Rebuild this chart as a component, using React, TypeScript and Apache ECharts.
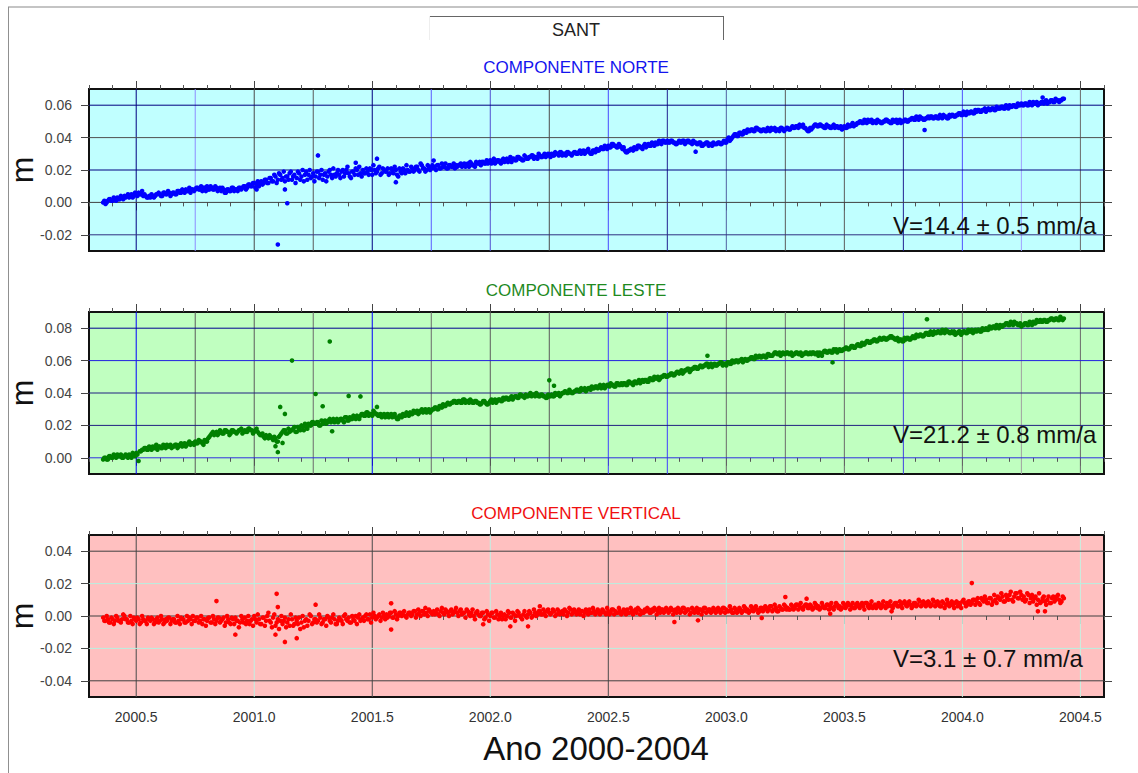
import React, { useEffect, useRef } from "react";
import * as echarts from "echarts";

// ---------- DATA (values in millimetres) ----------
// set A sampled every 0.01 yr from 2000.36, set B every 0.01 yr from 2000.365
const T0_A = 2000.36;
const T0_B = 2000.365;
const STEP = 0.01;

const NORTE_MM_A = [
  0, -1, 1, 2, 1, 2, 3, 2, 3, 4,
  4, 3, 5, 4, 5, 6, 5, 4, 4, 3,
  3, 4, 4, 5, 5, 4, 6, 5, 6, 5,
  6, 5, 7, 6, 7, 8, 7, 6, 8, 8,
  9, 8, 7, 9, 10, 8, 9, 8, 9, 8,
  7, 8, 6, 8, 7, 9, 8, 7, 9, 9,
  10, 9, 11, 10, 12, 11, 10, 13, 12, 14,
  12, 15, 13, 16, 14, 17, 15, 13, 16, 18,
  14, 17, 15, 18, 16, 13, 19, 17, 15, 18,
  16, 19, 17, 14, 18, 16, 20, 15, 17, 18,
  17, 19, 16, 20, 18, 15, 19, 21, 17, 18,
  20, 18, 19, 21, 17, 20, 19, 22, 18, 20,
  19, 17, 21, 18, 20, 16, 19, 21, 18, 20,
  19, 21, 20, 22, 19, 23, 21, 20, 22, 21,
  22, 20, 23, 21, 22, 24, 21, 23, 22, 21,
  22, 23, 22, 24, 23, 22, 24, 23, 25, 24,
  23, 25, 24, 24, 26, 25, 24, 26, 25, 26,
  25, 27, 26, 25, 27, 26, 28, 27, 26, 28,
  27, 28, 29, 28, 27, 29, 28, 30, 29, 29,
  30, 29, 30, 29, 31, 30, 29, 31, 30, 30,
  31, 30, 32, 31, 30, 32, 31, 30, 32, 33,
  32, 34, 33, 34, 35, 34, 36, 35, 34, 35,
  33, 32, 31, 32, 33, 34, 33, 35, 34, 35,
  34, 36, 35, 36, 37, 36, 37, 38, 37, 38,
  37, 38, 37, 36, 38, 37, 38, 37, 38, 37,
  38, 37, 36, 37, 35, 36, 37, 36, 35, 36,
  36, 37, 36, 38, 37, 40, 39, 41, 42, 41,
  43, 42, 44, 45, 44, 45, 44, 46, 45, 44,
  45, 44, 45, 46, 45, 44, 45, 46, 45, 45,
  46, 45, 47, 46, 47, 48, 47, 46, 45, 44,
  45, 47, 48, 47, 48, 47, 46, 47, 46, 47,
  46, 47, 46, 45, 47, 46, 47, 48, 47, 48,
  49, 50, 49, 50, 51, 50, 49, 50, 51, 50,
  49, 50, 51, 50, 49, 50, 51, 50, 49, 50,
  51, 50, 51, 52, 51, 52, 53, 52, 51, 52,
  52, 53, 52, 53, 52, 53, 54, 53, 52, 53,
  54, 53, 54, 55, 54, 55, 56, 55, 56, 55,
  56, 57, 56, 57, 56, 58, 57, 58, 57, 58,
  58, 59, 58, 59, 60, 59, 60, 59, 60, 61,
  60, 61, 60, 61, 62, 61, 60, 61, 62, 62,
  61, 62, 63, 62, 63, 62, 63, 64,
];
const NORTE_MM_B = [
  1, 0, 2, 1, 3, 1, 2, 4, 2, 3,
  5, 4, 3, 6, 4, 5, 7, 5, 3, 4,
  5, 3, 5, 6, 4, 6, 5, 7, 4, 6,
  5, 7, 6, 8, 6, 7, 9, 8, 7, 9,
  8, 10, 9, 7, 8, 10, 8, 10, 7, 9,
  9, 6, 8, 7, 9, 7, 8, 9, 8, 10,
  8, 11, 10, 12, 9, 13, 12, 11, 14, 12,
  15, 13, 17, 12, 18, 14, 19, 16, 14, 19,
  16, 12, 19, 14, 20, 17, 14, 20, 16, 13,
  19, 15, 20, 17, 13, 19, 17, 21, 16, 20,
  15, 20, 18, 22, 16, 19, 17, 20, 22, 16,
  18, 21, 17, 20, 23, 18, 21, 17, 21, 19,
  21, 18, 20, 22, 17, 21, 18, 20, 23, 19,
  22, 19, 22, 20, 24, 21, 19, 23, 20, 23,
  21, 23, 21, 24, 22, 21, 23, 22, 24, 23,
  23, 24, 23, 22, 24, 25, 23, 22, 24, 25,
  25, 24, 26, 25, 24, 27, 25, 26, 24, 27,
  26, 25, 28, 27, 26, 28, 27, 26, 29, 27,
  28, 29, 27, 28, 30, 28, 29, 28, 30, 28,
  29, 31, 30, 31, 29, 30, 31, 30, 29, 31,
  30, 31, 30, 32, 31, 33, 30, 32, 31, 32,
  33, 33, 35, 33, 34, 36, 35, 34, 36, 34,
  34, 31, 32, 33, 32, 33, 35, 34, 33, 36,
  35, 35, 37, 35, 36, 38, 36, 38, 37, 37,
  38, 37, 36, 37, 37, 38, 36, 38, 37, 36,
  37, 36, 37, 35, 36, 37, 35, 36, 37, 36,
  37, 36, 37, 37, 39, 38, 40, 42, 41, 43,
  42, 44, 43, 44, 45, 44, 46, 45, 44, 45,
  44, 46, 44, 45, 46, 45, 44, 46, 44, 46,
  45, 46, 46, 47, 46, 47, 48, 46, 44, 46,
  46, 48, 47, 48, 47, 46, 48, 47, 46, 48,
  47, 46, 47, 46, 46, 48, 47, 49, 48, 49,
  50, 49, 51, 49, 50, 51, 50, 49, 50, 49,
  50, 51, 50, 49, 51, 50, 49, 51, 50, 51,
  50, 51, 52, 51, 53, 51, 52, 51, 52, 53,
  53, 52, 53, 52, 54, 52, 53, 52, 54, 54,
  53, 54, 55, 54, 56, 54, 55, 56, 55, 57,
  57, 56, 57, 58, 57, 57, 58, 57, 59, 58,
  59, 58, 60, 58, 59, 60, 59, 61, 60, 60,
  61, 60, 62, 60, 61, 62, 61, 62, 61, 63,
  62, 63, 62, 64, 63, 63, 64,
];

const LESTE_MM_A = [
  -1, 0, -1, 1, 0, 1, 2, 1, 0, 1,
  1, 2, 0, 2, 3, -2, 4, 5, 6, 5,
  6, 7, 6, 5, 7, 6, 7, 8, 7, 6,
  7, 8, 7, 9, 8, 7, 9, 8, 9, 10,
  9, 10, 9, 11, 10, 13, 15, 14, 16, 15,
  16, 15, 17, 16, 15, 17, 16, 16, 17, 15,
  17, 16, 18, 17, 16, 18, 15, 14, 13, 14,
  12, 13, 11, 12, 10, 14, 16, 17, 15, 16,
  17, 19, 16, 18, 20, 17, 19, 21, 20, 22,
  21, 22, 20, 21, 23, 22, 24, 23, 22, 24,
  23, 24, 22, 25, 23, 24, 26, 24, 25, 26,
  27, 26, 28, 27, 26, 28, 27, 26, 25, 27,
  26, 25, 27, 26, 25, 24, 26, 27, 26, 27,
  28, 27, 28, 29, 28, 30, 29, 28, 30, 29,
  30, 31, 30, 32, 33, 32, 34, 33, 34, 35,
  34, 35, 34, 36, 35, 34, 35, 34, 35, 34,
  33, 35, 34, 33, 35, 34, 36, 35, 36, 35,
  36, 37, 36, 38, 37, 38, 37, 39, 38, 39,
  38, 40, 39, 38, 39, 38, 39, 38, 37, 38,
  39, 38, 39, 40, 39, 40, 41, 40, 41, 40,
  41, 42, 41, 42, 43, 42, 43, 44, 43, 44,
  44, 43, 45, 44, 45, 46, 45, 44, 46, 45,
  45, 46, 45, 47, 46, 47, 46, 48, 47, 47,
  48, 47, 49, 48, 49, 50, 49, 50, 51, 50,
  51, 52, 51, 53, 52, 54, 53, 54, 55, 54,
  55, 56, 55, 57, 56, 57, 58, 57, 56, 58,
  57, 58, 59, 58, 57, 59, 58, 59, 60, 59,
  60, 59, 61, 60, 61, 62, 61, 62, 63, 62,
  63, 62, 64, 63, 64, 65, 64, 63, 65, 64,
  65, 64, 63, 64, 65, 64, 63, 64, 65, 64,
  64, 65, 64, 63, 64, 65, 66, 65, 66, 65,
  66, 65, 67, 66, 67, 68, 67, 69, 68, 69,
  70, 69, 70, 71, 72, 71, 72, 73, 72, 74,
  73, 74, 73, 74, 75, 74, 73, 72, 73, 72,
  73, 74, 73, 75, 74, 75, 76, 75, 76, 77,
  76, 77, 78, 77, 78, 77, 78, 79, 78, 77,
  77, 76, 77, 78, 77, 78, 77, 78, 79, 78,
  78, 79, 78, 79, 80, 79, 80, 81, 80, 81,
  82, 81, 82, 83, 82, 83, 84, 83, 82, 81,
  82, 83, 82, 83, 84, 83, 84, 85, 84, 85,
  84, 85, 86, 85, 86, 85, 86, 86,
];
const LESTE_MM_B = [
  0, -1, 1, 0, 2, 0, 1, 2, 0, 2,
  0, 1, 3, 1, 2, 4, 5, 6, 5, 7,
  5, 6, 8, 7, 6, 8, 6, 7, 8, 7,
  8, 6, 8, 7, 9, 8, 10, 9, 8, 9,
  11, 10, 8, 10, 12, 14, 16, 15, 14, 17,
  15, 17, 16, 14, 17, 16, 15, 17, 18, 16,
  16, 18, 17, 15, 17, 16, 14, 15, 12, 13,
  14, 12, 13, 10, 13, 15, 17, 15, 18, 17,
  18, 16, 19, 17, 19, 21, 18, 20, 22, 21,
  22, 20, 23, 22, 21, 23, 22, 24, 23, 22,
  24, 23, 25, 23, 25, 24, 25, 26, 24, 27,
  26, 28, 26, 27, 29, 27, 26, 27, 26, 25,
  27, 26, 25, 27, 24, 26, 25, 26, 28, 26,
  27, 29, 28, 27, 29, 28, 30, 29, 28, 30,
  31, 30, 32, 31, 32, 33, 33, 34, 35, 34,
  35, 34, 36, 34, 35, 36, 34, 35, 34, 33,
  34, 35, 33, 34, 36, 35, 34, 36, 35, 37,
  37, 36, 37, 36, 38, 37, 39, 38, 37, 38,
  39, 38, 39, 40, 38, 39, 38, 37, 39, 38,
  38, 40, 39, 38, 40, 41, 40, 42, 40, 41,
  42, 41, 43, 42, 41, 43, 42, 43, 44, 43,
  45, 44, 43, 45, 44, 45, 44, 46, 45, 46,
  46, 45, 47, 46, 45, 47, 47, 46, 48, 48,
  47, 49, 48, 50, 49, 48, 50, 51, 50, 51,
  52, 51, 52, 53, 53, 52, 54, 55, 53, 55,
  56, 55, 56, 56, 57, 58, 56, 58, 57, 57,
  58, 59, 57, 58, 59, 58, 60, 59, 60, 60,
  61, 60, 60, 61, 62, 61, 63, 62, 62, 63,
  62, 64, 63, 63, 65, 64, 65, 64, 64, 65,
  64, 65, 64, 65, 64, 65, 64, 65, 64, 65,
  65, 64, 65, 65, 63, 66, 65, 66, 65, 67,
  67, 66, 66, 67, 68, 67, 68, 69, 68, 70,
  69, 71, 70, 72, 71, 72, 73, 72, 73, 73,
  74, 73, 74, 75, 74, 73, 74, 73, 72, 74,
  74, 73, 74, 74, 76, 75, 76, 75, 77, 76,
  78, 76, 77, 78, 77, 79, 77, 78, 77, 78,
  78, 77, 78, 76, 78, 77, 79, 78, 77, 79,
  79, 78, 80, 79, 79, 81, 80, 81, 82, 80,
  81, 82, 83, 82, 84, 82, 83, 82, 83, 82,
  83, 82, 84, 82, 83, 85, 84, 84, 85, 84,
  85, 86, 85, 86, 85, 87, 85,
];

const VERTICAL_MM_A = [
  -1, -3, -2, -4, -2, -3, -1, -3, -2, 0,
  -2, -4, -3, -1, -3, -2, -4, -2, -3, -1,
  -3, -2, -4, -1, -3, -2, -4, -3, -1, -3,
  -2, -4, -3, -1, -2, -4, -3, -2, 0, -3,
  -1, -3, -5, -2, -3, -1, -4, -2, -3, -1,
  -3, -1, -4, -2, -5, -2, -1, -3, -4, -2,
  -1, -3, -5, -2, 0, -4, -2, -5, -1, -3,
  2, -4, -1, -6, -2, -3, -5, -1, -4, -6,
  -2, -5, -3, -1, -4, -7, -2, -3, 0, -4,
  -2, -3, -1, -4, -2, 0, -3, -1, -2, -5,
  -1, -3, 0, -2, -1, -4, -2, 0, -1, -3,
  -1, 0, -2, 1, -1, 0, -1, 1, -1, 0,
  1, 0, 2, -1, 1, 0, 2, 1, 0, 1,
  2, 1, 3, 1, 2, 3, 1, 2, 4, 2,
  3, 2, 1, 3, 2, 4, 2, 3, 1, 3,
  2, 3, 1, 2, 4, 1, 2, 0, 2, 1,
  0, 2, -1, 1, 0, 2, -1, 1, 0, -2,
  1, 0, 2, -1, 1, 0, 2, -1, 1, 0,
  1, 2, 0, 2, 1, 3, 1, 2, 3, 2,
  2, 3, 1, 3, 2, 1, 3, 2, 4, 2,
  3, 2, 1, 3, 2, 3, 4, 2, 3, 2,
  3, 2, 3, 1, 3, 2, 4, 3, 2, 3,
  2, 3, 4, 2, 3, 3, 2, 4, 3, 2,
  3, 4, 2, 3, 4, 3, 2, 4, 3, 4,
  3, 4, 3, 2, 4, 3, 5, 3, 4, 2,
  4, 3, 2, 4, 3, 5, 3, 4, 3, 4,
  3, 4, 3, 5, 4, 3, 4, 2, 4, 3,
  4, 3, 5, 4, 3, 5, 4, 4, 3, 5,
  4, 5, 4, 6, 4, 5, 3, 5, 4, 6,
  5, 4, 6, 5, 7, 6, 5, 6, 7, 5,
  6, 5, 7, 6, 5, 6, 5, 7, 6, 5,
  6, 7, 6, 5, 7, 6, 7, 6, 5, 7,
  6, 7, 6, 8, 6, 7, 5, 7, 6, 7,
  7, 6, 8, 7, 6, 7, 8, 6, 7, 8,
  7, 8, 7, 6, 8, 7, 9, 7, 8, 7,
  8, 7, 9, 7, 8, 6, 8, 7, 8, 7,
  7, 8, 6, 7, 9, 8, 7, 9, 8, 10,
  9, 8, 11, 9, 10, 8, 11, 9, 10, 12,
  10, 12, 9, 11, 13, 10, 12, 14, 11, 13,
  12, 10, 13, 11, 9, 12, 10, 8, 11, 9,
  10, 8, 11, 9, 12, 10, 9, 11,
];
const VERTICAL_MM_B = [
  -3, 0, -4, -1, -5, 0, -3, -4, 1, -2,
  -4, 0, -5, -2, -1, -5, 0, -3, -5, -2,
  -1, -5, -2, -4, 0, -5, -2, -1, -5, -2,
  -4, 0, -5, -2, -4, 0, -1, -5, -3, -1,
  -4, 0, -2, -6, -1, -4, 0, -5, -1, -4,
  -2, -6, 0, -4, -1, -5, -3, -7, 0, -4,
  -5, 0, -3, -6, -2, 1, -5, -1, -6, 0,
  -3, -7, 1, -4, -8, 0, -3, -7, -2, 1,
  -6, -1, -5, -8, 0, -3, -6, 1, -5, -2,
  -4, 1, -5, -2, -6, -1, -4, 1, -5, -3,
  -2, -5, 1, -3, -4, 0, -3, -5, 1, -2,
  -3, 1, -2, -4, 2, -2, 0, -3, 2, -2,
  -1, 2, -1, 3, -2, 2, 0, 3, -1, 2,
  0, 3, -1, 4, 0, 3, 5, 0, 3, 1,
  1, 4, 0, 5, 1, 3, 0, 4, 2, 5,
  0, 4, 2, -1, 3, 0, 4, -2, 3, 0,
  2, -2, 3, -3, 2, -1, 3, -2, 2, 0,
  -2, 3, -1, 2, -3, 3, 0, -2, 3, -1,
  3, -1, 4, 0, 3, 1, 4, 0, 4, 1,
  4, 0, 4, 1, 3, 4, 0, 5, 1, 4,
  1, 4, 3, 0, 4, 1, 2, 5, 1, 4,
  1, 4, 2, 5, 1, 4, 1, 2, 5, 1,
  4, 1, 2, 5, 1, 4, 5, 1, 2, 4,
  5, 2, 4, 5, 1, 5, 4, 2, 5, 2,
  5, 1, 4, 5, 2, 5, 2, 4, 1, 5,
  2, 5, 4, 1, 5, 2, 4, 2, 5, 2,
  5, 2, 5, 2, 3, 6, 2, 5, 2, 5,
  2, 6, 3, 2, 6, 3, 6, 2, 5, 3,
  6, 3, 6, 3, 7, 3, 6, 4, 7, 4,
  4, 7, 4, 7, 4, 8, 4, 7, 5, 7,
  4, 8, 5, 4, 8, 5, 7, 4, 8, 4,
  8, 5, 4, 8, 5, 8, 4, 8, 5, 8,
  5, 8, 4, 8, 5, 9, 6, 5, 8, 5,
  9, 5, 6, 9, 5, 8, 6, 9, 5, 9,
  6, 9, 5, 8, 6, 10, 6, 9, 6, 9,
  6, 10, 6, 9, 6, 9, 5, 10, 6, 9,
  5, 9, 8, 5, 10, 6, 9, 7, 10, 7,
  11, 7, 10, 12, 8, 11, 7, 13, 8, 11,
  14, 9, 13, 10, 15, 9, 14, 11, 15, 10,
  9, 14, 8, 13, 11, 7, 14, 9, 12, 7,
  12, 8, 12, 10, 13, 8, 12,
];

// isolated points [year, mm]
const NORTE_OUTLIERS = [
  [2001.10, -26], [2001.14, -0.5], [2001.27, 29], [2001.13, 8], [2001.01, 8],
  [2001.43, 24.5], [2001.52, 27], [2001.60, 12.5], [2001.76, 25.8], [2002.87, 31.3],
  [2003.84, 44.7], [2004.34, 64.7],
];
const LESTE_OUTLIERS = [
  [2001.16, 60], [2001.32, 71.8], [2001.26, 39.4], [2001.29, 31.8], [2001.40, 38.2],
  [2001.45, 37.9], [2001.11, 31.4], [2001.13, 27.1], [2001.33, 16.4], [2001.10, 3.5],
  [2001.12, 9.2], [2001.09, 7.2], [2002.25, 47.8], [2002.27, 44.5], [2001.52, 31.4],
  [2002.92, 63], [2003.45, 58.9], [2003.85, 85.5],
];
const VERTICAL_OUTLIERS = [
  [2001.095, 13.7], [2001.10, 5.5], [2001.09, -11.5], [2001.13, -16], [2001.18, -13.7],
  [2000.84, 9.2], [2000.92, -11.5], [2001.58, 7.8], [2001.58, -8.4], [2001.26, 7],
  [2001.97, -5.1], [2002.085, -6.4], [2002.16, -6.4], [2002.21, 6], [2002.78, -3.7],
  [2002.88, -2.7], [2003.25, 11.7], [2003.34, 10.7], [2003.15, -1.2], [2003.44, 1.4],
  [2003.70, 2.9], [2004.04, 20.3], [2004.32, 2.9], [2004.35, 2.9],
];

const X_MIN = 2000.3;
const X_MAX = 2004.6;
const X_MAJOR = [2000.5, 2001.0, 2001.5, 2002.0, 2002.5, 2003.0, 2003.5, 2004.0, 2004.5];
const X_QUARTERS = [
  2000.5, 2000.75, 2001.0, 2001.25, 2001.5, 2001.75, 2002.0, 2002.25, 2002.5,
  2002.75, 2003.0, 2003.25, 2003.5, 2003.75, 2004.0, 2004.25, 2004.5,
];
const Y_RANGES = [[-0.03, 0.07], [-0.01, 0.09], [-0.05, 0.05]];
const Y_TICKS = [
  [-0.02, 0, 0.02, 0.04, 0.06],
  [0, 0.02, 0.04, 0.06, 0.08],
  [-0.04, -0.02, 0, 0.02, 0.04],
];
const STATION = "SANT";
const PANEL_TITLES = ["COMPONENTE NORTE", "COMPONENTE LESTE", "COMPONENTE VERTICAL"];
const VELOCITY_LABELS = ["V=14.4 ± 0.5 mm/a", "V=21.2 ± 0.8 mm/a", "V=3.1 ± 0.7 mm/a"];
const Y_NAME = "m";
const X_NAME = "Ano 2000-2004";

// ---------- STYLE ----------
const FONT = '"Liberation Sans", Arial, Helvetica, sans-serif';
const GRID_TOPS = [89, 312, 535];
const GRID_LEFT = 89;
const GRID_WIDTH = 1015;
const GRID_HEIGHT = 162;
const BG = ["#c0ffff", "#c0ffc0", "#ffc0c0"];
const DOT = ["#0000ff", "#008000", "#ff0000"];
const TITLE_COLOR = ["#1414ee", "#1f8a1f", "#f01010"];
const V_LINES = [X_QUARTERS, X_QUARTERS, X_MAJOR];
const V_COLORS = [
  ["#000080", "#8c8cff", "#4a4a4a", "#5a5a5a", "#000080", "#5a5aff", "#5050d0", "#4a4a4a", "#4848ff",
    "#202090", "#5060a0", "#5a5a5a", "#5a5a5a", "#202090", "#5050ff", "#a0a0ff", "#6a6a6a"],
  ["#0000ff", "#5a5a5a", "#5a5a5a", "#6a6a6a", "#0000ff", "#6a6a6a", "#5a5a5a", "#5a5a5a", "#4040ff",
    "#4040ff", "#6a6a6a", "#6a6a6a", "#6a6a6a", "#4040e0", "#6a6a6a", "#a0a0a0", "#6a6a6a"],
  ["#4a4a4a", "#c0f0e4", "#4a4a4a", "#c0f0e4", "#4a4a4a", "#c0f0e4", "#c0f0e4", "#c8f0e0", "#c8f0e0"],
];
const H_COLORS = [
  ["#303080", "#404040", "#000080", "#505050", "#000080"],
  ["#3030e0", "#202080", "#202080", "#2020e0", "#000090"],
  ["#404040", "#b8f0e0", "#404040", "#b8f0e0", "#404040"],
];

const SERIES_A = [NORTE_MM_A, LESTE_MM_A, VERTICAL_MM_A];
const SERIES_B = [NORTE_MM_B, LESTE_MM_B, VERTICAL_MM_B];
const OUTLIERS = [NORTE_OUTLIERS, LESTE_OUTLIERS, VERTICAL_OUTLIERS];

function buildOption() {
  const grid: any[] = [];
  const xAxis: any[] = [];
  const yAxis: any[] = [];
  const series: any[] = [];
  const elements: any[] = [];

  for (let p = 0; p < 3; p++) {
    grid.push({
      left: GRID_LEFT, top: GRID_TOPS[p], width: GRID_WIDTH, height: GRID_HEIGHT,
      show: true, backgroundColor: BG[p], borderColor: "#111", borderWidth: 2,
      containLabel: false, outerBoundsMode: "none",
    });
    const base = {
      type: "value", gridIndex: p, min: X_MIN, max: X_MAX,
      axisLine: { show: false }, splitLine: { show: false },
      axisLabel: { show: false }, axisTick: { show: false },
    };
    for (const position of ["bottom", "top"]) {
      xAxis.push({
        ...base, position, interval: 0.1,
        axisTick: { show: true, length: 4, inside: false, lineStyle: { color: "#555", width: 1 } },
      });
      xAxis.push({
        ...base, position,
        axisTick: { show: true, length: 8, inside: false, customValues: X_MAJOR, lineStyle: { color: "#444", width: 1 } },
        axisLabel: {
          show: p === 2 && position === "bottom", customValues: X_MAJOR,
          formatter: (v: number) => v.toFixed(1), margin: 13,
          color: "#333", fontSize: 14, fontFamily: FONT,
        },
      });
    }
    const [ymin, ymax] = Y_RANGES[p];
    yAxis.push({
      type: "value", gridIndex: p, position: "left", min: ymin, max: ymax,
      axisLine: { show: false }, splitLine: { show: false },
      axisTick: { show: true, length: 8, customValues: Y_TICKS[p], lineStyle: { color: "#444" } },
      axisLabel: {
        show: true, customValues: Y_TICKS[p], formatter: (v: number) => v.toFixed(2),
        margin: 17, color: "#444", fontSize: 14, fontFamily: FONT,
      },
    });
    yAxis.push({
      type: "value", gridIndex: p, position: "right", min: ymin, max: ymax,
      axisLine: { show: false }, splitLine: { show: false },
      axisTick: { show: true, length: 8, customValues: Y_TICKS[p], lineStyle: { color: "#444" } },
      axisLabel: { show: false },
    });

    const xi = 4 * p + 1;
    const yi = 2 * p;
    const lineData: number[][] = [];
    V_LINES[p].forEach((v, k) => lineData.push([v, 0, k]));
    Y_TICKS[p].forEach((v, k) => lineData.push([v, 1, k]));
    const vc = V_COLORS[p];
    const hc = H_COLORS[p];
    series.push({
      type: "custom", xAxisIndex: xi, yAxisIndex: yi, z: 1, silent: true,
      data: lineData,
      renderItem: (_params: any, api: any) => {
        const v = api.value(0);
        const dir = api.value(1);
        const k = api.value(2);
        let a, b, color;
        if (dir === 0) {
          a = api.coord([v, ymin]); b = api.coord([v, ymax]); color = vc[k];
        } else {
          a = api.coord([X_MIN, v]); b = api.coord([X_MAX, v]); color = hc[k];
        }
        return {
          type: "line",
          shape: { x1: a[0], y1: a[1], x2: b[0], y2: b[1] },
          style: { stroke: color, lineWidth: 1 },
        };
      },
    });
    const setA = SERIES_A[p].map((mm, i) => [+(T0_A + i * STEP).toFixed(3), mm / 1000]);
    const setB = SERIES_B[p].map((mm, i) => [+(T0_B + i * STEP).toFixed(3), mm / 1000]);
    const extra = OUTLIERS[p].map(([t, mm]) => [t, mm / 1000]);
    series.push({
      type: "scatter", xAxisIndex: xi, yAxisIndex: yi, z: 3, silent: true,
      symbol: "circle", symbolSize: 4.6, itemStyle: { color: DOT[p], opacity: 1 },
      data: setA.concat(setB, extra),
    });

    elements.push({
      type: "text", x: 576, y: GRID_TOPS[p] - 22,
      style: {
        text: PANEL_TITLES[p], fill: TITLE_COLOR[p], font: `17px ${FONT}`,
        textAlign: "center", textVerticalAlign: "middle",
      },
    });
    elements.push({
      type: "text", x: 893, y: GRID_TOPS[p] + [136, 122.5, 123.7][p],
      style: {
        text: VELOCITY_LABELS[p], fill: "#111", font: `24px ${FONT}`,
        textAlign: "left", textVerticalAlign: "middle",
      },
      z: 10,
    });
    elements.push({
      type: "text", x: 22, y: GRID_TOPS[p] + 81, rotation: Math.PI / 2,
      style: {
        text: Y_NAME, fill: "#111", font: `32px ${FONT}`,
        textAlign: "center", textVerticalAlign: "middle",
      },
    });
  }

  // page border and station box
  elements.push({ type: "line", shape: { x1: 8, y1: 7, x2: 1138, y2: 7 }, style: { stroke: "#c4c4c4", lineWidth: 2 } });
  elements.push({ type: "line", shape: { x1: 8.5, y1: 7, x2: 8.5, y2: 773 }, style: { stroke: "#909090", lineWidth: 1 } });
  elements.push({ type: "line", shape: { x1: 429, y1: 16.5, x2: 723, y2: 16.5 }, style: { stroke: "#666", lineWidth: 1 } });
  elements.push({ type: "line", shape: { x1: 723.5, y1: 16, x2: 723.5, y2: 40 }, style: { stroke: "#666", lineWidth: 1 } });
  elements.push({ type: "line", shape: { x1: 429.5, y1: 16, x2: 429.5, y2: 40 }, style: { stroke: "#eeeeee", lineWidth: 1 } });
  elements.push({
    type: "text", x: 576, y: 30,
    style: { text: STATION, fill: "#222", font: `18px ${FONT}`, textAlign: "center", textVerticalAlign: "middle" },
  });
  elements.push({
    type: "text", x: 596, y: 748,
    style: { text: X_NAME, fill: "#111", font: `33px ${FONT}`, textAlign: "center", textVerticalAlign: "middle" },
  });

  return {
    animation: false,
    backgroundColor: "#ffffff",
    grid, xAxis, yAxis, series,
    graphic: { elements },
  };
}

export default function App() {
  const ref = useRef<HTMLDivElement>(null);
  useEffect(() => {
    if (!ref.current) return;
    const chart = echarts.init(ref.current, null, { renderer: "svg" });
    chart.setOption(buildOption() as any);
    return () => chart.dispose();
  }, []);
  return (
    <div
      ref={ref}
      style={{ position: "fixed", left: 0, top: 0, width: 1138, height: 773, background: "#fff" }}
    />
  );
}
